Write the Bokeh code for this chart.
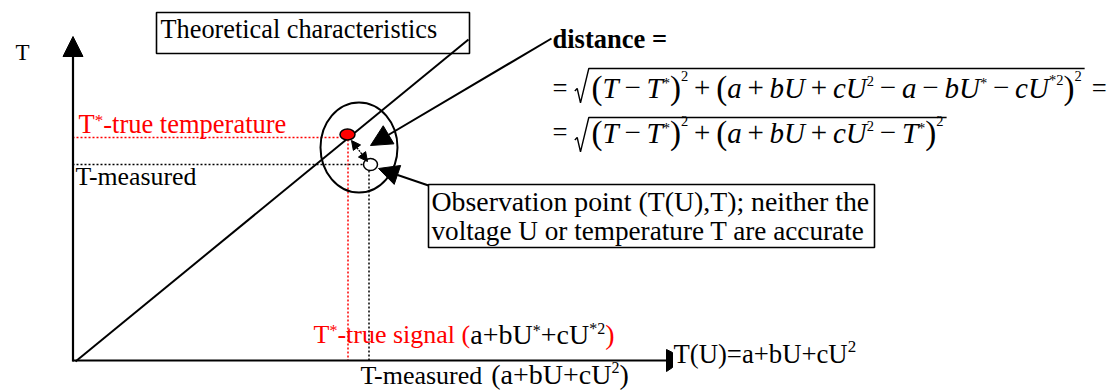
from bokeh.plotting import figure
from bokeh.models import Range1d, ColumnDataSource, Arrow, NormalHead
from bokeh.embed import file_html
from bokeh.resources import INLINE
from bokeh.core.properties import value, field

# ---------------- page / canvas ----------------
W, H = 1111, 390
X0, Y0 = 0, 0
FONT = "Liberation Serif"
RED = "#ff0000"
BLACK = "#000000"
BASE_SHIFT = 0.3375   # em offset between requested baseline and rendered position

# ---------------- diagram geometry (reference pixel coordinates) ----------------
axis_y_x = [72.5, 72.5]
axis_y_y = [361, 36]
axis_x_x = [72, 667]
axis_x_y = [360, 360]
axis_x_end_x = [666, 672, 672, 666]
axis_x_end_y = [349, 352, 367, 371]

theory_x = [75, 468]
theory_y = [361, 39]

region_x, region_y, region_w, region_h = 358.5, 147, 77, 90
true_pt = (347, 134, 15, 11)
obs_pt = (370, 164, 14, 12)

dot_x0 = [72, 347.5, 72, 368.5]
dot_y0 = [137, 139, 164, 170]
dot_x1 = [340, 347.5, 363, 368.5]
dot_y1 = [137, 360, 164, 360]
dot_col = [RED, RED, BLACK, BLACK]

box_left = [156, 428]
box_right = [469, 874]
box_top = [12, 184]
box_bottom = [53, 247]

dist_arrow = (551, 38, 370, 145)
obs_arrow = (428, 185, 378, 168)
pair_arrow = (351, 140, 367, 161)

# ---------------- text ----------------
REG = {' ': 250, '(': 333, ')': 333, '*': 500, '+': 564, ',': 250, '-': 333, ';': 278,
       '=': 564, '2': 500, '−': 564, 'O': 722, 'T': 611, 'U': 722, 'a': 444, 'b': 500,
       'c': 444, 'd': 500, 'e': 444, 'g': 500, 'h': 500, 'i': 278, 'l': 278, 'm': 778,
       'n': 500, 'o': 500, 'p': 500, 'r': 333, 's': 389, 't': 278, 'u': 500, 'v': 500}
ITA = {'T': 556, 'U': 722, 'a': 500, 'b': 500, 'c': 444}
BOLD = {'d': 556, 'i': 278, 's': 389, 't': 333, 'a': 500, 'n': 556, 'c': 444, 'e': 444,
        ' ': 250, '=': 570}

N, I, B = "normal", "italic", "bold"

labels = [
    (15, 60, [("T", N, 23, 0, BLACK)]),
    (160, 38, [("Theoretical characteristics", N, 26.3, 0, BLACK)]),
    (78, 132, [("T", N, 26.5, 0, RED), ("*", N, 17, 6, RED),
               ("-true temperature", N, 26.5, 0, RED)]),
    (75, 185, [("T-measured", N, 25.8, 0, BLACK)]),
    (313, 343, [("T", N, 26, 0, RED), ("*", N, 16, 8, RED), ("-true signal (", N, 26, 0, RED),
                ("a+bU", N, 28, 0, BLACK), ("*", N, 16, 8, BLACK), ("+cU", N, 28, 0, BLACK),
                ("*2", N, 16, 10, BLACK), (")", N, 28, 0, RED)]),
    (360, 383.5, [("T-measured ", N, 26, 0, BLACK), ("(a+bU+cU", N, 28, 0, BLACK),
                  ("2", N, 16, 11, BLACK), (" )", N, 28, 0, BLACK)]),
    (673, 363, [("T(U)=a+bU+cU", N, 26.7, 0, BLACK), ("2", N, 17, 11, BLACK)]),
    (431, 210, [("Observation point (T(U),T); neither the", N, 27.8, 0, BLACK)]),
    (431, 240, [("voltage U or temperature T are accurate", N, 27.2, 0, BLACK)]),
    (552, 47, [("distance =", B, 26.5, 0, BLACK)]),
    (552, 96, [("=", N, 26.6, 0, BLACK)]),
    (552, 140, [("=", N, 26.6, 0, BLACK)]),
]

S = 29      # formula size
SS = 14.5   # superscript size
SP = 33     # enlarged outer parentheses
G = 0.2 * S


def gap(k=1):
    return ("", "gap", G * k, 0, BLACK)


def op(ch):
    return [gap(), (ch, N, S, 0, BLACK), gap()]


def lp():
    return ("(", N, SP, -2, BLACK)


def rp():
    return (")", N, SP, -2, BLACK)


head = [lp(), ("T", I, S, 0, BLACK)] + op("−") + \
       [("T", I, S, 0, BLACK), ("*", N, SS, 10, BLACK), rp(),
        ("2", N, SS, 17, BLACK)] + op("+") + \
       [lp(), ("a", I, S, 0, BLACK)] + op("+") + \
       [("b", I, S, 0, BLACK), ("U", I, S, 0, BLACK)] + op("+") + \
       [("c", I, S, 0, BLACK), ("U", I, S, 0, BLACK), ("2", N, SS, 12, BLACK)] + op("−")

formula1 = head + [("a", I, S, 0, BLACK)] + op("−") + \
    [("b", I, S, 0, BLACK), ("U", I, S, 0, BLACK), ("*", N, SS, 10, BLACK)] + op("−") + \
    [("c", I, S, 0, BLACK), ("U", I, S, 0, BLACK), ("*2", N, SS, 13, BLACK),
     rp(), ("2", N, SS, 17, BLACK)]
formula2 = head + [("T", I, S, 0, BLACK), ("*", N, SS, 10, BLACK), rp(),
                   ("2", N, SS, 17, BLACK)]

formula_x = 591
formula_y = [97, 142]
radical_top = [68, 117]

rows = {N: [], I: [], B: []}


def lay(x, y, runs):
    for text, style, size, rise, color in runs:
        if style == "gap":
            x += size
            continue
        table = {N: REG, I: ITA, B: BOLD}[style]
        w = sum(table.get(ch, REG.get(ch, 500)) for ch in text) * size / 1000.0
        rows[style].append((x, y - rise - BASE_SHIFT * size, text, f"{size}px", color))
        x += w
    return x


for lx, ly, runs in labels:
    lay(lx, ly, runs)

end1 = lay(formula_x, formula_y[0], formula1)
end2 = lay(formula_x, formula_y[1], formula2)
lay(end1 + 10, formula_y[0] - 1, [("=", N, 26.6, 0, BLACK)])

# ---------------- figure ----------------
p = figure(width=W, height=H, output_backend="svg", toolbar_location=None,
           x_range=Range1d(X0, X0 + W), y_range=Range1d(Y0 + H, Y0),
           x_axis_type=None, y_axis_type=None, min_border=0)
p.grid.visible = False
p.outline_line_color = None
p.background_fill_color = "white"
p.border_fill_color = "white"

# dotted guides
p.segment(x0=dot_x0, y0=dot_y0, x1=dot_x1, y1=dot_y1, line_color=dot_col,
          line_width=1.5, line_dash="2 2")

# boxes
p.quad(left=box_left, right=box_right, top=box_top, bottom=box_bottom,
       fill_color=None, line_color=BLACK, line_width=1.6)

# axes
p.line(axis_x_x, axis_x_y, line_color=BLACK, line_width=2.2)
p.patch(axis_x_end_x, axis_x_end_y, fill_color=BLACK, line_color=BLACK, line_width=1)
p.add_layout(Arrow(end=NormalHead(size=20, fill_color=BLACK, line_color=BLACK, line_width=1),
                   x_start=axis_y_x[0], y_start=axis_y_y[0], x_end=axis_y_x[1], y_end=axis_y_y[1],
                   line_color=BLACK, line_width=2.2))

# theoretical characteristic
p.line(theory_x, theory_y, line_color=BLACK, line_width=2)

# uncertainty region
p.ellipse(x=[region_x], y=[region_y], width=[region_w], height=[region_h],
          fill_color=None, line_color=BLACK, line_width=2)

# pointer arrows
p.add_layout(Arrow(end=NormalHead(size=21, fill_color=BLACK, line_color=BLACK, line_width=1),
                   x_start=dist_arrow[0], y_start=dist_arrow[1], x_end=dist_arrow[2],
                   y_end=dist_arrow[3], line_color=BLACK, line_width=2))
p.add_layout(Arrow(end=NormalHead(size=20, fill_color=BLACK, line_color=BLACK, line_width=1),
                   x_start=obs_arrow[0], y_start=obs_arrow[1], x_end=obs_arrow[2],
                   y_end=obs_arrow[3], line_color=BLACK, line_width=2))
p.add_layout(Arrow(start=NormalHead(size=9, fill_color=BLACK, line_color=BLACK, line_width=1),
                   end=NormalHead(size=9, fill_color=BLACK, line_color=BLACK, line_width=1),
                   x_start=pair_arrow[0], y_start=pair_arrow[1], x_end=pair_arrow[2],
                   y_end=pair_arrow[3], line_color=BLACK, line_width=1.3, line_dash="2 1"))

# points
p.ellipse(x=[true_pt[0]], y=[true_pt[1]], width=[true_pt[2]], height=[true_pt[3]],
          fill_color=RED, line_color=BLACK, line_width=1.5)
p.ellipse(x=[obs_pt[0]], y=[obs_pt[1]], width=[obs_pt[2]], height=[obs_pt[3]],
          fill_color="white", line_color=BLACK, line_width=1.5)

# radicals
for top, end in zip(radical_top, [end1, end2]):
    p.line([574.3, 576.7, 580.0, 588.3, end + 3],
           [top + 22.4, top + 20.0, top + 34.4, top, top],
           line_color=BLACK, line_width=1.4)

# texts
for style, rr in rows.items():
    if not rr:
        continue
    src = ColumnDataSource(dict(x=[r[0] for r in rr], y=[r[1] for r in rr],
                                txt=[r[2] for r in rr], fsz=[r[3] for r in rr],
                                tcol=[r[4] for r in rr]))
    p.text(x="x", y="y", text="txt", source=src, text_font=value(FONT),
           text_font_size=field("fsz"), text_color=field("tcol"),
           text_font_style=style, text_align="left", text_baseline="alphabetic")

open("out.html", "w").write(file_html(p, INLINE))
